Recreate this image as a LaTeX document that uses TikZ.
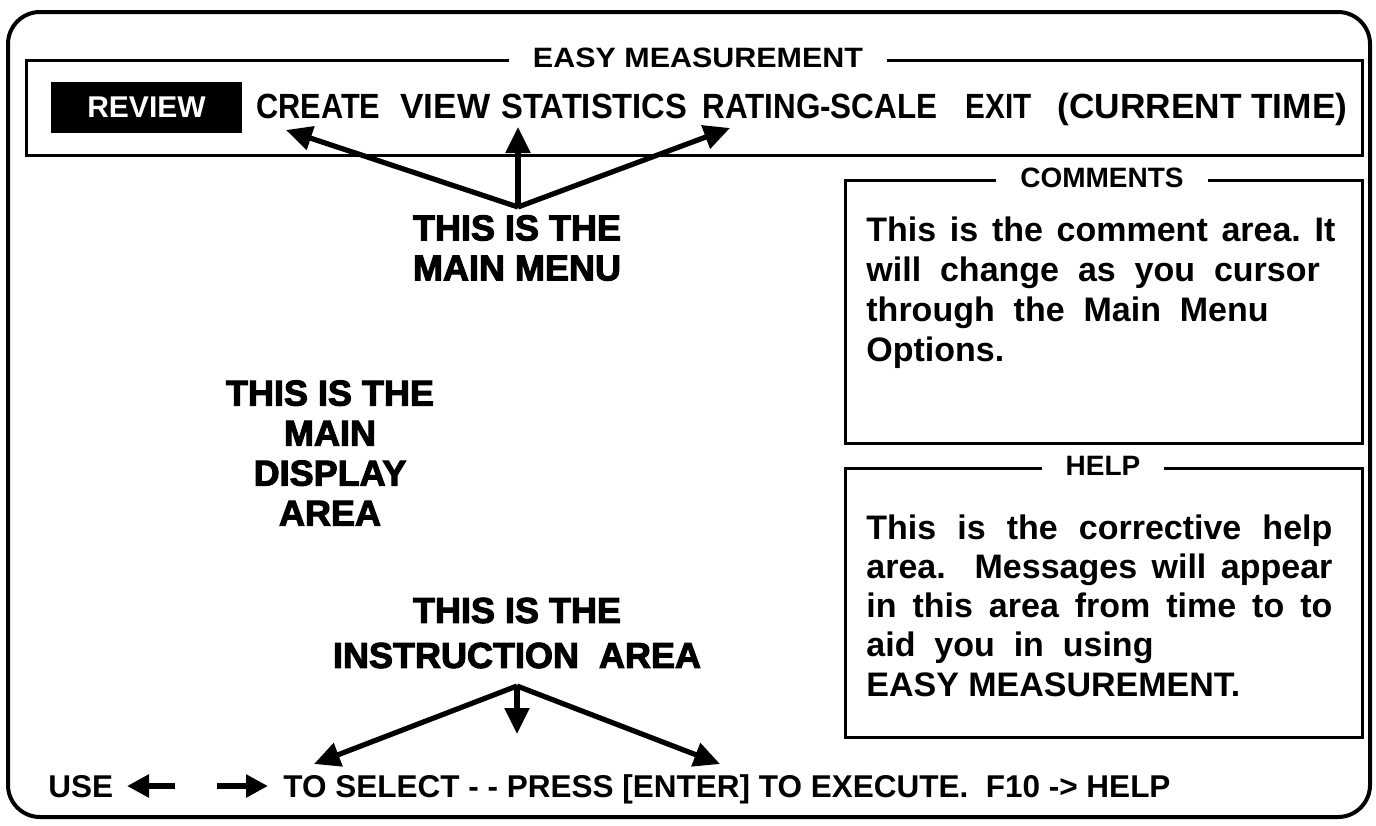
\documentclass[tikz,border=0pt]{standalone}
\usepackage{fontspec}
\usepackage{graphicx}
\setmainfont{Liberation Sans}
\newfontfamily\boldsans{Liberation Sans Bold}
\newfontfamily\heavysans[FakeBold=3]{Liberation Sans Bold}
\usetikzlibrary{arrows.meta}
\newcommand\fitw[2]{\resizebox{#1}{\height}{#2}}
\tikzset{
  frame/.style={line width=2pt, rounded corners=16pt},
  panel/.style={line width=1.5pt},
  paneltitle/.style={fill=white, inner xsep=12pt, inner ysep=1pt, font=\boldsans\fontsize{14}{17}\selectfont},
  menuword/.style={anchor=base west, inner sep=0pt, font=\boldsans\fontsize{17.5}{20}\selectfont},
  heavy/.style={inner sep=0pt, align=center, font=\heavysans\fontsize{18}{20}\selectfont},
  boxtext/.style={anchor=base west, inner sep=0pt, align=left, font=\boldsans\fontsize{17}{20}\selectfont},
  bottomtext/.style={anchor=base west, inner sep=0pt, font=\boldsans\fontsize{15.75}{18}\selectfont},
  bigarrow/.style={line width=2.6pt, -{Triangle[length=13pt,width=12pt]}},
  smallarrow/.style={line width=3pt, -{Triangle[length=11pt,width=11pt]}},
}
\begin{document}
\frenchspacing
\begin{tikzpicture}[x=0.5pt,y=-0.5pt]
\useasboundingbox (0,0) rectangle (1376,825);
% outer frame
\draw[frame] (8,12) rectangle (1370,817);
% menu panel
\draw[panel] (26,60) rectangle (1362,155);
\node[paneltitle] (title) at (698,58) {\fitw{165pt}{EASY MEASUREMENT}};
\node[fill=black, minimum width=95.5pt, minimum height=25.5pt, inner sep=0pt,
      text=white, font=\boldsans\fontsize{15}{18}\selectfont] (review) at (146.5,107.5) {REVIEW};
\node[menuword] (create) at (256,118) {\fitw{62pt}{CREATE}};
\node[menuword] (view) at (400,118) {\fitw{45pt}{VIEW}};
\node[menuword] (stats) at (501,118) {\fitw{93pt}{STATISTICS}};
\node[menuword] (rating) at (702,118) {\fitw{117.5pt}{RATING-SCALE}};
\node[menuword] (exit) at (965,118) {\fitw{33pt}{EXIT}};
\node[menuword] (time) at (1057,118) {\fitw{145pt}{(CURRENT TIME)}};
% main menu label + arrows
\node[heavy] (mm) at (517,248) {THIS IS THE\\MAIN MENU};
\coordinate (mmapex) at (518,207);
\coordinate (tipL) at (286,130);
\coordinate (tipM) at (518,127);
\coordinate (tipR) at (730,128);
\draw[bigarrow] (mmapex) -- (tipL);
\draw[bigarrow] (mmapex) -- (tipM);
\draw[bigarrow] (mmapex) -- (tipR);
% main display label
\node[heavy] (disp) at (330,453) {THIS IS THE\\MAIN\\DISPLAY\\AREA};
% instruction label
\node[heavy] (instr) at (517,633) {THIS IS THE\\[2.5pt]INSTRUCTION\ \ AREA};
\coordinate (inapex) at (517,686);
\coordinate (btipL) at (314,764);
\coordinate (btipM) at (517,734);
\coordinate (btipR) at (720,764);
\draw[bigarrow] (inapex) -- (btipL);
\draw[bigarrow] (inapex) -- (btipM);
\draw[bigarrow] (inapex) -- (btipR);
% bottom instruction line
\node[bottomtext] (use) at (48,797) {USE};
\coordinate (la1) at (175,786);
\coordinate (la2) at (127,786);
\coordinate (ra1) at (217,786);
\coordinate (ra2) at (268,786);
\draw[smallarrow] (la1) -- (la2);
\draw[smallarrow] (ra1) -- (ra2);
\node[bottomtext] (instrline) at (283,797) {TO SELECT - - PRESS [ENTER] TO EXECUTE.\ \ F10 -> HELP};
% comments panel
\draw[panel] (845,180) rectangle (1362,443);
\node[paneltitle] (ctitle) at (1102,178) {COMMENTS};
\node[boxtext] (c1) at (866,241) {\makebox[234.5pt][s]{This is the comment area. It}};
\node[boxtext] (c2) at (866,281) {will\ \ change\ \ as\ \ you\ \ cursor};
\node[boxtext] (c3) at (866,321) {through\ \ the\ \ Main\ \ Menu};
\node[boxtext] (c4) at (866,361) {Options.};
% help panel
\draw[panel] (845,468) rectangle (1362,737);
\node[paneltitle] (htitle) at (1103,466) {HELP};
\node[boxtext] (h1) at (866,539) {\makebox[233pt][s]{This is the corrective help}};
\node[boxtext] (h2) at (866,578) {\makebox[233pt][s]{area.\ \ Messages will appear}};
\node[boxtext] (h3) at (866,617) {\makebox[233pt][s]{in this area from time to to}};
\node[boxtext] (h4) at (866,656) {aid\ \ you\ \ in\ \ using};
\node[boxtext] (h5) at (866,696) {EASY MEASUREMENT.};
\end{tikzpicture}
\end{document}
